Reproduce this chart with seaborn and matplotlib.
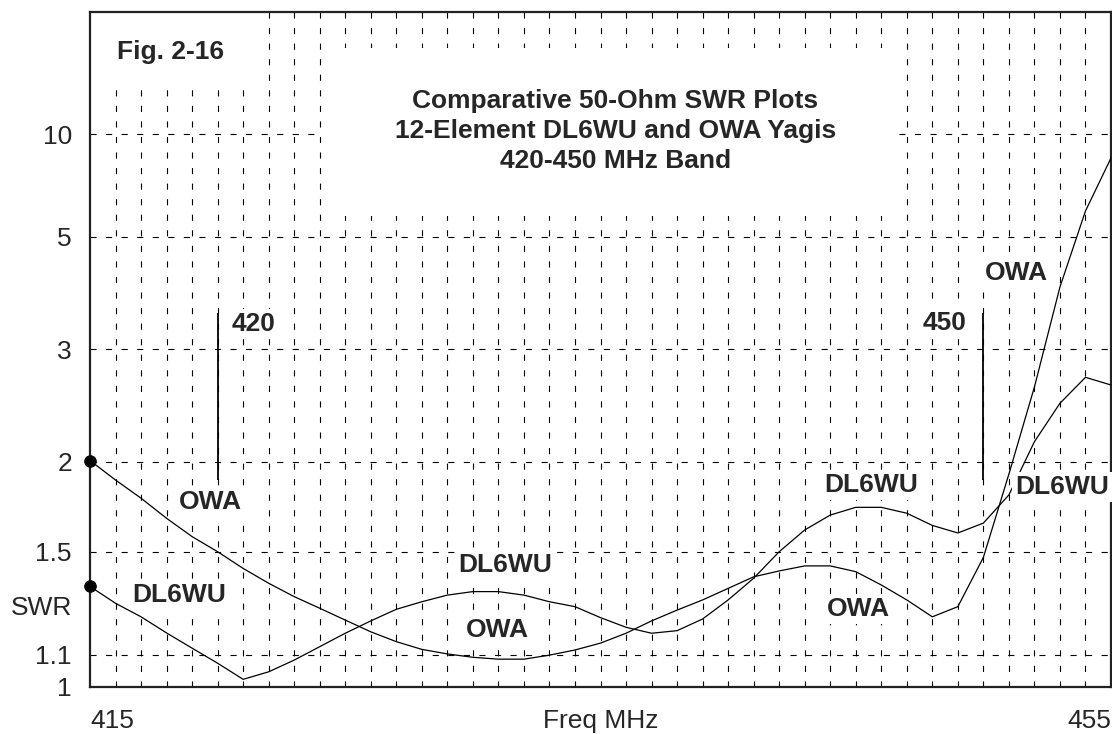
import matplotlib
matplotlib.use("Agg")
import matplotlib.pyplot as plt
import seaborn as sns
import numpy as np
import pandas as pd
from matplotlib.patches import Rectangle

# 数据 (SWR, 1 MHz steps)
freq_mhz = list(range(415, 456))
dl6wu_swr = [1.350, 1.283, 1.232, 1.174, 1.122, 1.073, 1.023, 1.046, 1.083, 1.127,
             1.173, 1.217, 1.260, 1.289, 1.315, 1.329, 1.329, 1.315, 1.289, 1.270,
             1.229, 1.194, 1.173, 1.182, 1.224, 1.296, 1.384, 1.501, 1.606, 1.683,
             1.725, 1.725, 1.693, 1.629, 1.591, 1.641, 1.795, 2.141, 2.449, 2.694,
             2.618]
owa_swr = [2.009, 1.884, 1.776, 1.666, 1.573, 1.501, 1.426, 1.363, 1.309, 1.264,
           1.220, 1.178, 1.144, 1.118, 1.103, 1.092, 1.086, 1.086, 1.099, 1.116,
           1.139, 1.173, 1.217, 1.257, 1.296, 1.342, 1.390, 1.415, 1.437, 1.437,
           1.412, 1.356, 1.296, 1.232, 1.270, 1.475, 1.921, 2.599, 3.906, 5.777,
           8.232]
swr_ticks = [1, 1.1, 1.5, 2, 3, 5, 10]
swr_tick_labels = ["1", "1.1", "1.5", "2", "3", "5", "10"]
x_ticks = [415, 435, 455]
x_tick_labels = ["415", "Freq MHz", "455"]
band_edges = [420, 450]
title_lines = ["Comparative 50-Ohm SWR Plots",
               "12-Element DL6WU and OWA Yagis",
               "420-450 MHz Band"]


def to_rho(swr):
    """SWR -> reflection coefficient (the plot's vertical scale)"""
    swr = np.asarray(swr, dtype=float)
    return (swr - 1) / (swr + 1)


sns.set_style("white")
plt.rcParams["font.family"] = ["Liberation Sans", "DejaVu Sans"]

df = pd.DataFrame({
    "freq": freq_mhz * 2,
    "swr": dl6wu_swr + owa_swr,
    "antenna": ["DL6WU"] * len(freq_mhz) + ["OWA"] * len(freq_mhz),
})
df["rho"] = to_rho(df["swr"])

fig = plt.figure(figsize=(11.12, 7.34), dpi=100)
ax = fig.add_axes([90 / 1112, 1 - 687 / 734, 1021 / 1112, 675.3 / 734])
ax.set_xlim(415, 455)
ax.set_ylim(0, 1)

# dashed grid
dash = (0, (5.5, 8.5))
ax.vlines(range(416, 455), 0, 1, colors="black", lw=0.8, linestyles=dash, zorder=1)
ax.hlines(to_rho(swr_ticks[1:]), 415, 455, colors="black", lw=0.8, linestyles=dash, zorder=1)

# white blanks behind the heading texts
ax.add_patch(Rectangle((0.227, 0.697), 0.557, 0.249, transform=ax.transAxes,
                       fc="white", ec="none", zorder=2))
ax.add_patch(Rectangle((0.01, 0.891), 0.152, 0.11, transform=ax.transAxes,
                       fc="white", ec="none", zorder=2))

# curves
sns.lineplot(data=df, x="freq", y="rho", hue="antenna", palette=["black", "black"],
             legend=False, lw=0.9, ax=ax, zorder=3)
start = df[df["freq"] == freq_mhz[0]]
sns.scatterplot(data=start, x="freq", y="rho", color="black", s=70, ax=ax,
                zorder=5, clip_on=False, edgecolor="black", legend=False)

# band edge markers
ax.vlines(band_edges, to_rho(1.884), to_rho(3.48), colors="black", lw=1.3, zorder=3)

bold = dict(fontsize=19, fontweight="bold", zorder=4)
box = dict(fc="white", ec="none", pad=2)
ax.text(420.53, 0.5375, "420", ha="left", va="center", bbox=box, **bold)
ax.text(449.35, 0.539, "450", ha="right", va="center", bbox=box, **bold)

labels = [
    (419.71, 0.274, "OWA"),
    (418.49, 0.136, "DL6WU"),
    (431.27, 0.181, "DL6WU"),
    (430.96, 0.0844, "OWA"),
    (445.59, 0.299, "DL6WU"),
    (445.12, 0.1155, "OWA"),
    (451.31, 0.613, "OWA"),
    (453.08, 0.296, "DL6WU"),
]
for fx, ry, txt in labels:
    ax.text(fx, ry, txt, ha="center", va="center", bbox=box, **bold)

ax.text(418.14, 0.94, "Fig. 2-16", ha="center", va="center", **bold)
ax.text(435.59, 0.823, "\n".join(title_lines), ha="center", va="center",
        linespacing=1.33, **bold)

# axes / ticks
ax.set_xticks(x_ticks)
ax.set_xticklabels(x_tick_labels, fontsize=19)
ax.set_yticks(to_rho(swr_ticks))
ax.set_yticklabels(swr_tick_labels, fontsize=19)
ax.tick_params(axis="y", length=0, pad=13)
ax.tick_params(axis="x", length=0, pad=16)
xl = ax.get_xticklabels()
xl[0].set_ha("left")
xl[-1].set_ha("right")
ax.set_xlabel("")
ax.set_ylabel("")
ax.text(-0.0176, 0.117, "SWR", transform=ax.transAxes, ha="right", va="center", fontsize=19)

for s in ax.spines.values():
    s.set_visible(True)
    s.set_linewidth(1.6)
    s.set_color("#222222")

fig.savefig("out.png", dpi=100)
